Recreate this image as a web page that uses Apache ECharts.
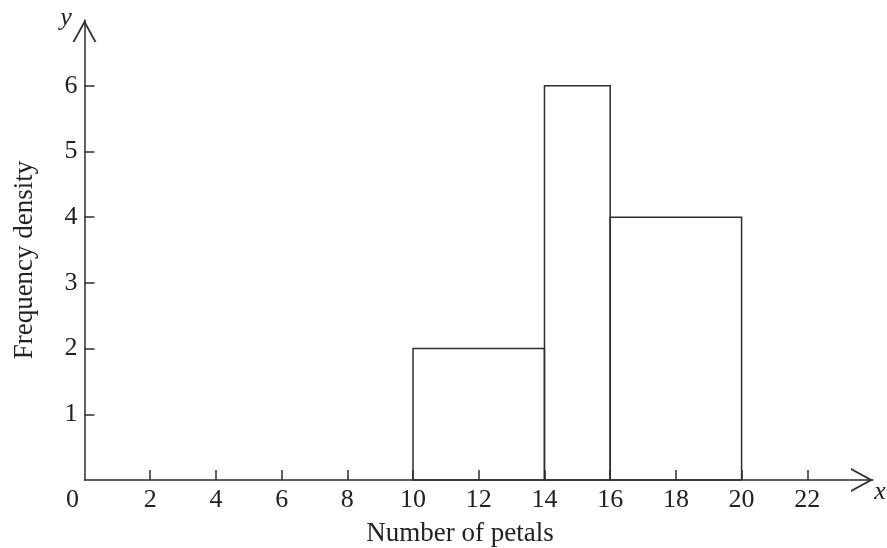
<!DOCTYPE html>
<html>
<head>
<meta charset="utf-8">
<script src="https://cdn.jsdelivr.net/npm/echarts@6/dist/echarts.min.js"></script>
<style>html,body{margin:0;padding:0;background:#fff}#c{width:887px;height:548px}</style>
</head>
<body>
<div id="c"></div>
<script>
const binStarts = [10, 14, 16];
const binEnds = [14, 16, 20];
const densities = [2, 6, 4];
const xTickValues = [2, 4, 6, 8, 10, 12, 14, 16, 18, 20, 22];
const yTickValues = [1, 2, 3, 4, 5, 6];
const xAxisTitle = 'Number of petals';
const yAxisTitle = 'Frequency density';

const FONT = "'Liberation Serif', 'Times New Roman', serif";
const INK = '#2e2e2e';
const chevron = 'path://M0,22 L12,0 L24,22 L22,22 L12,3.67 L2,22 Z';

const chart = echarts.init(document.getElementById('c'), null, {renderer: 'canvas'});
const data = binStarts.map((s, i) => [s, binEnds[i], densities[i]]);

chart.setOption({
  animation: false,
  backgroundColor: '#fff',
  grid: {left: 84.5, right: 14, top: 20, bottom: 68},
  xAxis: {
    type: 'value', min: 0, max: 24, interval: 2,
    splitLine: {show: false},
    axisLine: {lineStyle: {color: INK, width: 1.5}, symbol: ['none', chevron], symbolSize: [24, 22], symbolOffset: [0, -11]},
    axisTick: {inside: true, length: 10, lineStyle: {color: INK, width: 1.5}, customValues: xTickValues},
    axisLabel: {customValues: xTickValues, margin: 7, color: '#222', fontFamily: FONT, fontSize: 26}
  },
  yAxis: {
    type: 'value', min: 0, max: 7, interval: 1,
    splitLine: {show: false},
    axisLine: {lineStyle: {color: INK, width: 1.5}, symbol: ['none', chevron], symbolSize: [24, 22], symbolOffset: [0, -11]},
    axisTick: {inside: true, length: 10, lineStyle: {color: INK, width: 1.5}, customValues: yTickValues},
    axisLabel: {customValues: yTickValues, margin: 7, color: '#222', fontFamily: FONT, fontSize: 26}
  },
  graphic: [
    {type: 'text', x: 72.5, y: 500, style: {text: '0', x: 0, y: 0, align: 'center', verticalAlign: 'middle', font: '26px ' + FONT, fill: '#222'}},
    {type: 'text', x: 66, y: 18, style: {text: 'y', x: 0, y: 0, align: 'center', verticalAlign: 'middle', font: 'italic 26px ' + FONT, fill: '#222'}},
    {type: 'text', x: 880, y: 492, style: {text: 'x', x: 0, y: 0, align: 'center', verticalAlign: 'middle', font: 'italic 26px ' + FONT, fill: '#222'}},
    {type: 'text', x: 460, y: 534, style: {text: xAxisTitle, x: 0, y: 0, align: 'center', verticalAlign: 'middle', font: '27px ' + FONT, fill: '#222'}},
    {type: 'text', x: 25, y: 260, rotation: Math.PI / 2, style: {text: yAxisTitle, x: 0, y: 0, align: 'center', verticalAlign: 'middle', font: '27px ' + FONT, fill: '#222'}}
  ],
  series: [{
    type: 'custom',
    data: data,
    encode: {x: [0, 1], y: 2},
    renderItem: function (params, api) {
      const p0 = api.coord([api.value(0), api.value(2)]);
      const p1 = api.coord([api.value(1), 0]);
      return {
        type: 'rect',
        shape: {x: p0[0], y: p0[1], width: p1[0] - p0[0], height: p1[1] - p0[1]},
        style: {fill: 'none', stroke: INK, lineWidth: 1.5}
      };
    }
  }]
});
</script>
</body>
</html>
